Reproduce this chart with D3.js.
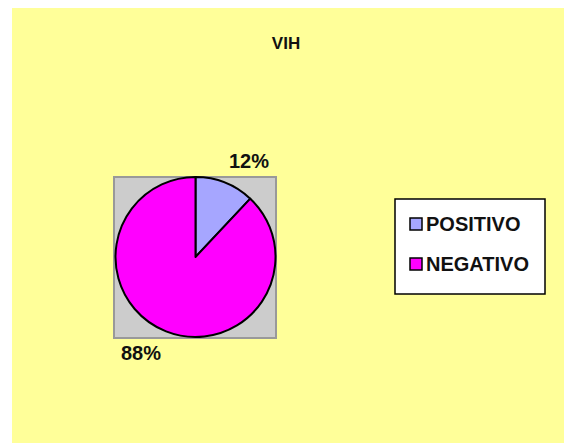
<!DOCTYPE html>
<html>
<head>
<meta charset="utf-8">
<script src="https://cdn.jsdelivr.net/npm/d3@7"></script>
<style>
  body { margin: 0; background: #fff; }
  svg { display: block; font-family: Arial, "Liberation Sans", sans-serif; }
</style>
</head>
<body>
<div class="chart"></div>
<script>

var categories = ["POSITIVO", "NEGATIVO"];
var values = [12, 88];
var labels = ["12%", "88%"];
var colors = ["#A6A6FF", "#FF00FF"];

var svgWidth = 564;
var svgHeight = 443;

var svg = d3
  .select(".chart")
  .append("svg")
  .attr("width", svgWidth)
  .attr("height", svgHeight);

// chart area
svg.append("rect")
  .attr("x", 12)
  .attr("y", 8)
  .attr("width", svgWidth - 12)
  .attr("height", svgHeight - 8)
  .style("fill", "#FFFF99");

svg.append("text")
  .attr("x", 286)
  .attr("y", 49)
  .attr("text-anchor", "middle")
  .style("font-size", "17px")
  .style("font-weight", "bold")
  .style("fill", "#111")
  .text("VIH");

// plot area
svg.append("rect")
  .attr("x", 114)
  .attr("y", 177)
  .attr("width", 162)
  .attr("height", 161)
  .style("fill", "#CCCCCC")
  .style("stroke", "#999999")
  .style("stroke-width", 2);

var cx = 195.5, cy = 257, r = 80;

var pie = d3.pie().sort(null).value(d => d);
var arc = d3.arc().innerRadius(0).outerRadius(r);
var arcs = pie(values);

var pieGroup = svg.append("g")
  .attr("transform", `translate(${cx}, ${cy})`);

pieGroup.selectAll("path")
  .data(arcs)
  .join("path")
  .attr("d", arc)
  .style("fill", (d, i) => colors[i])
  .style("stroke", "#000")
  .style("stroke-width", 2)
  .style("stroke-linejoin", "round");

// outside labels
var labelPos = [[249, 168], [141, 360]];

svg.selectAll(".pctLabel")
  .data(labels)
  .join("text")
  .attr("class", "pctLabel")
  .attr("x", (d, i) => labelPos[i][0])
  .attr("y", (d, i) => labelPos[i][1])
  .attr("text-anchor", "middle")
  .style("font-size", "20px")
  .style("font-weight", "bold")
  .style("fill", "#111")
  .text(d => d);

// legend
svg.append("rect")
  .attr("x", 395)
  .attr("y", 199)
  .attr("width", 150)
  .attr("height", 95)
  .style("fill", "#fff")
  .style("stroke", "#000")
  .style("stroke-width", 1.5);

var size = 12;
svg.selectAll("legdots")
  .data(categories)
  .join("rect")
  .attr("x", 410)
  .attr("y", (d, i) => 218 + i * 40)
  .attr("width", size)
  .attr("height", size)
  .style("fill", (d, i) => colors[i])
  .style("stroke", "#000")
  .style("stroke-width", 1.5);

svg.selectAll("leglabels")
  .data(categories)
  .join("text")
  .attr("x", 426)
  .attr("y", (d, i) => 231 + i * 40)
  .style("font-size", "20px")
  .style("font-weight", "bold")
  .style("fill", "#111")
  .text(d => d);

</script>
</body>
</html>
